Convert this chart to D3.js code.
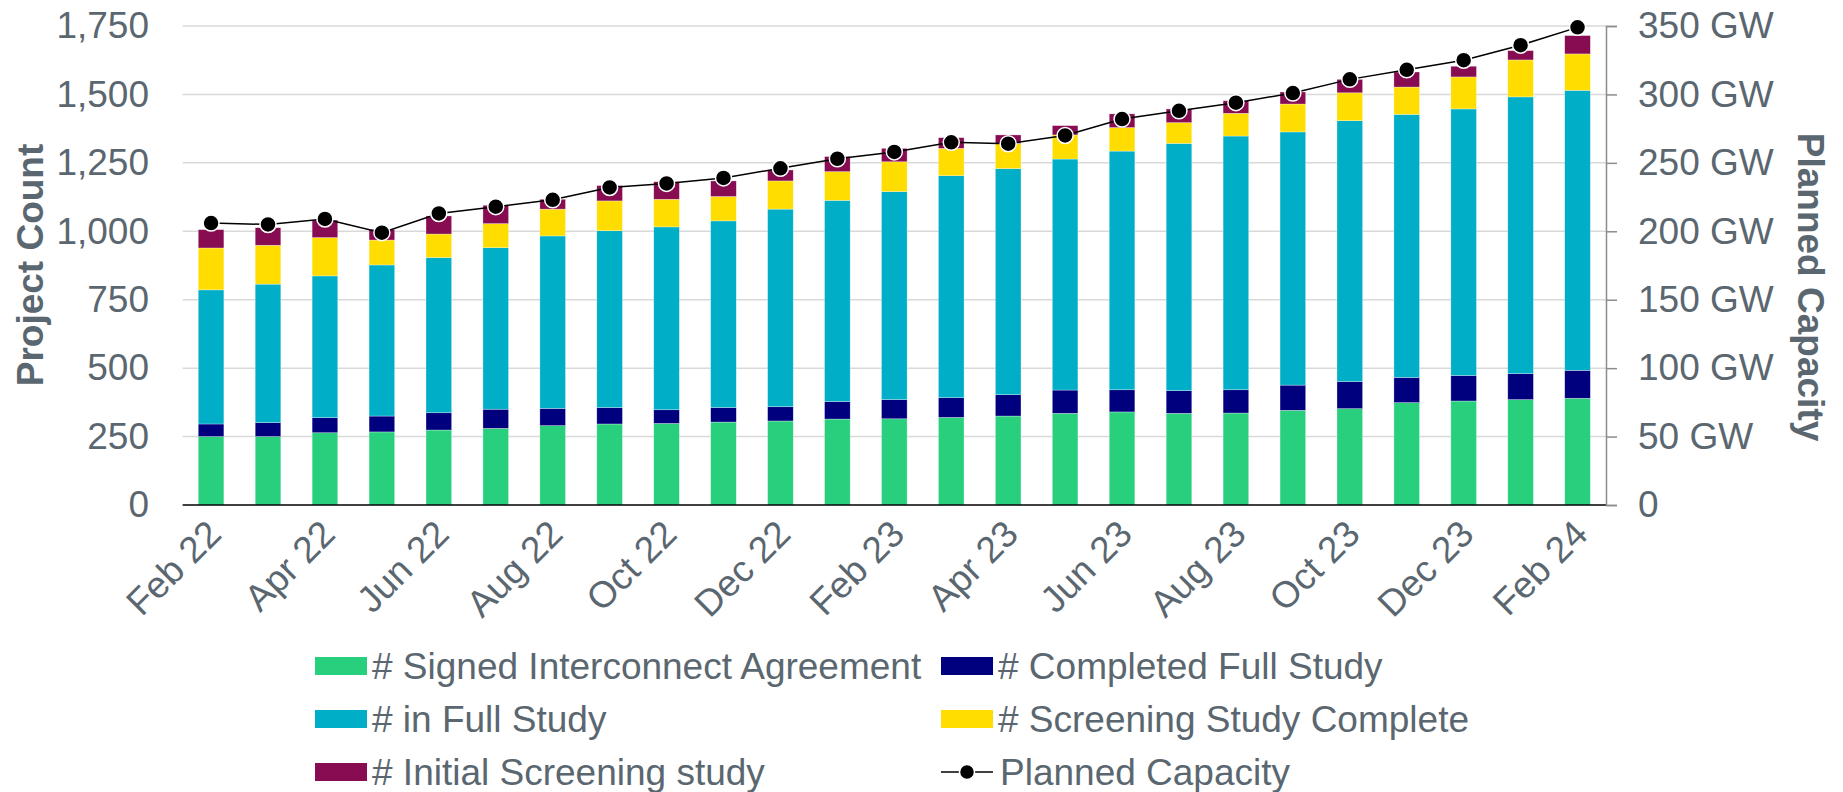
<!DOCTYPE html>
<html>
<head>
<meta charset="utf-8">
<script src="https://cdn.jsdelivr.net/npm/d3@7"></script>
<style>
  body { margin: 0; background: #fff; }
  text { font-family: "Liberation Sans", Arial, sans-serif; fill: #5b6770; }
</style>
</head>
<body>
<div id="chart"></div>
<script>
// months shown on the x axis (labels every other month)
var months = ["Feb 22", "Mar 22", "Apr 22", "May 22", "Jun 22", "Jul 22", "Aug 22", "Sep 22",
              "Oct 22", "Nov 22", "Dec 22", "Jan 23", "Feb 23", "Mar 23", "Apr 23", "May 23",
              "Jun 23", "Jul 23", "Aug 23", "Sep 23", "Oct 23", "Nov 23", "Dec 23", "Jan 24", "Feb 24"];

var signedIA      = [250, 250, 264, 267, 274, 280, 290, 296, 298, 303, 307, 314, 315, 320, 325, 335, 340, 335, 336, 346, 352, 374, 380, 385, 390];
var completedFull = [46, 51, 55, 58, 63, 70, 63, 60, 50, 53, 52, 64, 70, 72, 78, 85, 81, 83, 85, 92, 99, 92, 93, 95, 102];
var inFullStudy   = [490, 506, 518, 552, 567, 590, 630, 646, 668, 682, 722, 735, 760, 811, 826, 844, 872, 903, 927, 925, 953, 961, 974, 1011, 1023];
var screeningDone = [153, 142, 140, 91, 86, 88, 98, 109, 101, 89, 103, 105, 109, 100, 92, 88, 86, 76, 83, 102, 102, 100, 117, 135, 133];
var initialScreen = [67, 64, 64, 39, 66, 67, 36, 56, 64, 57, 40, 55, 49, 39, 31, 34, 50, 50, 46, 44, 49, 55, 39, 34, 67];

// planned capacity, GW (right axis)
var plannedGW = [206, 205, 209, 199, 213, 218, 223, 232, 235, 239, 246, 253, 258, 265, 264, 270, 282, 288, 294, 301, 311, 318, 325, 336, 349];

var countTicks = [0, 250, 500, 750, 1000, 1250, 1500, 1750];
var gwTicks = [0, 50, 100, 150, 200, 250, 300, 350];

var seriesNames = ["# Signed Interconnect Agreement", "# Completed Full Study", "# in Full Study",
                   "# Screening Study Complete", "# Initial Screening study"];
var seriesColors = ["#28d07d", "#00007f", "#00aec7", "#ffdd00", "#870c52"];
var seriesData = [signedIA, completedFull, inFullStudy, screeningDone, initialScreen];

var width = 1843;
var height = 792;
var plot = {left: 182.6, right: 1606, top: 26, bottom: 505};

var svg = d3.select("#chart")
        .append("svg")
        .attr("width", width)
        .attr("height", height);

var x = d3.scaleBand()
        .domain(months)
        .range([plot.left, plot.right])
        .paddingInner(0.55)
        .paddingOuter(0.275);

var y = d3.scaleLinear()
        .domain([0, 1750])
        .range([plot.bottom, plot.top]);

var yGW = d3.scaleLinear()
        .domain([0, 350])
        .range([plot.bottom, plot.top]);

// gridlines
svg.append("g")
    .selectAll("line")
    .data(countTicks.slice(1))
    .enter()
    .append("line")
    .attr("x1", plot.left)
    .attr("x2", plot.right)
    .attr("y1", d => y(d))
    .attr("y2", d => y(d))
    .style("stroke", "#d9d9d9")
    .style("stroke-width", 1.5);

// stacked bars
var rows = months.map((m, i) => {
    var r = {month: m};
    seriesNames.forEach((s, k) => { r[s] = seriesData[k][i]; });
    return r;
});
var stack = d3.stack().keys(seriesNames)(rows);

svg.append("g")
    .selectAll("g")
    .data(stack)
    .enter()
    .append("g")
    .style("fill", (d, i) => seriesColors[i])
    .selectAll("rect")
    .data(d => d)
    .enter()
    .append("rect")
    .attr("x", d => x(d.data.month))
    .attr("width", x.bandwidth())
    .attr("y", d => y(d[1]))
    .attr("height", d => y(d[0]) - y(d[1]))
    .style("stroke", "#ffffff")
    .style("stroke-opacity", 0.5)
    .style("stroke-width", 0.6);

// baseline
svg.append("line")
    .attr("x1", plot.left)
    .attr("x2", plot.right)
    .attr("y1", plot.bottom)
    .attr("y2", plot.bottom)
    .style("stroke", "#000")
    .style("stroke-width", 1.5);

// left axis
var leftAxis = svg.append("g")
    .attr("transform", "translate(149,0)")
    .call(d3.axisLeft(y).tickValues(countTicks).tickSize(0).tickPadding(0).tickFormat(d3.format(",")));
leftAxis.select(".domain").remove();
leftAxis.selectAll("text")
    .style("font-size", "37px")
    .style("fill", "#5b6770")
    .attr("font-family", null);

// right axis
var rightAxis = svg.append("g")
    .attr("transform", "translate(" + plot.right + ",0)")
    .call(d3.axisRight(yGW).tickValues(gwTicks).tickSize(11).tickPadding(21)
          .tickFormat(d => d === 0 ? "0" : d + " GW"));
rightAxis.select(".domain").style("stroke", "#8c8c8c").style("stroke-width", 1.5);
rightAxis.selectAll("line").style("stroke", "#8c8c8c").style("stroke-width", 1.5);
rightAxis.selectAll("text")
    .style("font-size", "37px")
    .style("fill", "#5b6770")
    .attr("font-family", null);

// x labels, every other month
svg.append("g")
    .selectAll("text")
    .data(months.filter((m, i) => i % 2 === 0))
    .enter()
    .append("text")
    .attr("transform", d => "translate(" + (x(d) + x.bandwidth() / 2 + 3) + "," + (plot.bottom + 22) + ") rotate(-45)")
    .attr("text-anchor", "end")
    .attr("dy", "0.35em")
    .style("font-size", "37px")
    .text(d => d);

// axis titles
svg.append("text")
    .attr("transform", "translate(43,265) rotate(-90)")
    .attr("text-anchor", "middle")
    .style("font-size", "37px")
    .style("font-weight", "bold")
    .text("Project Count");

svg.append("text")
    .attr("transform", "translate(1798,287) rotate(90)")
    .attr("text-anchor", "middle")
    .style("font-size", "37px")
    .style("font-weight", "bold")
    .text("Planned Capacity");

// planned capacity line
var line = d3.line()
    .x((d, i) => x(months[i]) + x.bandwidth() / 2)
    .y(d => yGW(d));

svg.append("path")
    .datum(plannedGW)
    .attr("d", line)
    .style("fill", "none")
    .style("stroke", "#000")
    .style("stroke-width", 1.5);

svg.append("g")
    .selectAll("circle")
    .data(plannedGW)
    .enter()
    .append("circle")
    .attr("cx", (d, i) => x(months[i]) + x.bandwidth() / 2)
    .attr("cy", d => yGW(d))
    .attr("r", 8)
    .style("fill", "#000")
    .style("stroke", "#fff")
    .style("stroke-width", 1.5);

// legend
var legendItems = [
    {name: seriesNames[0], color: seriesColors[0], col: 0, row: 0},
    {name: seriesNames[1], color: seriesColors[1], col: 1, row: 0},
    {name: seriesNames[2], color: seriesColors[2], col: 0, row: 1},
    {name: seriesNames[3], color: seriesColors[3], col: 1, row: 1},
    {name: seriesNames[4], color: seriesColors[4], col: 0, row: 2},
    {name: "Planned Capacity", color: null, col: 1, row: 2}
];
var colX = [315, 941];
var rowY = [666, 719, 772];

var lg = svg.append("g")
    .selectAll("g")
    .data(legendItems)
    .enter()
    .append("g")
    .attr("transform", d => "translate(" + colX[d.col] + "," + rowY[d.row] + ")");

lg.filter(d => d.color)
    .append("rect")
    .attr("x", 0)
    .attr("y", -9)
    .attr("width", 52)
    .attr("height", 18)
    .style("fill", d => d.color);

var lineItem = lg.filter(d => !d.color);
lineItem.append("line")
    .attr("x1", 0).attr("x2", 52).attr("y1", 0).attr("y2", 0)
    .style("stroke", "#000").style("stroke-width", 1.5);
lineItem.append("circle")
    .attr("cx", 26).attr("cy", 0).attr("r", 7.5)
    .style("fill", "#000").style("stroke", "#fff").style("stroke-width", 1.5);

lg.append("text")
    .attr("x", d => d.color ? 57 : 59)
    .attr("y", 0)
    .attr("dy", "0.35em")
    .style("font-size", "37px")
    .text(d => d.name);
</script>
</body>
</html>
